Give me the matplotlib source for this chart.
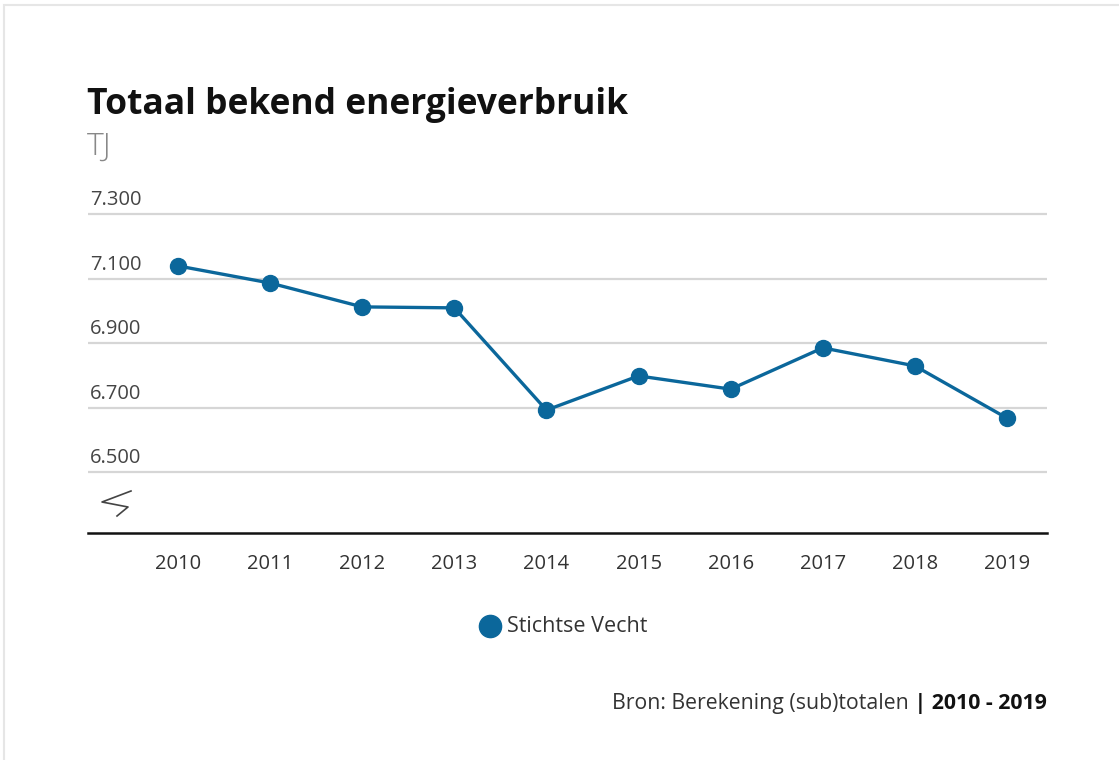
import matplotlib
matplotlib.use("Agg")
import matplotlib.pyplot as plt
from matplotlib.patches import Rectangle
from matplotlib.lines import Line2D

years = ["2010", "2011", "2012", "2013", "2014", "2015", "2016", "2017", "2018", "2019"]
values = [7139, 7086, 7012, 7009, 6692, 6798, 6757, 6885, 6829, 6667]
yticks = [6500, 6700, 6900, 7100, 7300]
ytick_labels = ["6.500", "6.700", "6.900", "7.100", "7.300"]
series_name = "Stichtse Vecht"
title = "Totaal bekend energieverbruik"
unit = "TJ"
source = "Bron: Berekening (sub)totalen"
period = " | 2010 - 2019"

W, H = 1119, 760
fig = plt.figure(figsize=(W / 100, H / 100), dpi=100)
fig.patch.set_facecolor("white")

def fx(px):
    return px / W

def fy(py):
    return 1 - py / H

# card border
fig.patches.append(Rectangle((fx(4), fy(H + 10)), fx(W + 10), fy(5) - fy(H + 10),
                             transform=fig.transFigure, facecolor="white",
                             edgecolor="#e6e6e6", linewidth=1.5, zorder=-10))

color = "#0b679b"
FONT = "Open Sans"

ax_left, ax_right = 88, 1047
ax_top, ax_bot = 205, 533
ax = fig.add_axes([fx(ax_left), fy(ax_bot), fx(ax_right - ax_left), fy(ax_top) - fy(ax_bot)])
ax.set_facecolor("none")

x = list(range(len(years)))
ax.plot(x, values, color=color, linewidth=2.4, marker="o", markersize=11.5,
        markerfacecolor=color, markeredgecolor=color, zorder=3, clip_on=False)

ax.set_xlim(-0.977, 9.434)
ymin = 6311
ymax = 7300 + (7300 - ymin) * (214 - ax_top) / (ax_bot - 214)
ax.set_ylim(ymin, ymax)

for yt in yticks:
    ax.axhline(yt, color="#d6d6d6", linewidth=1.6, zorder=1)
for s in ["top", "right", "left"]:
    ax.spines[s].set_visible(False)
ax.spines["bottom"].set_color("#111111")
ax.spines["bottom"].set_linewidth(1.8)

ax.set_yticks([])
ax.set_xticks(x)
ax.set_xticklabels(years, fontsize=14.5, color="#333333", family=FONT)
ax.tick_params(axis="x", length=0, pad=15)

for yt, lab in zip(yticks, ytick_labels):
    ax.text(0.002, yt + 12, lab, transform=ax.get_yaxis_transform(), ha="left", va="bottom",
            fontsize=14.5, color="#444444", family=FONT)

# axis break symbol
fig.lines.append(Line2D([fx(v) for v in [131, 102, 128, 117]],
                        [fy(v) for v in [491, 502, 507, 516]],
                        transform=fig.transFigure, color="#444444", linewidth=1.2))

# title & unit
fig.text(fx(87), fy(114), title, fontsize=25.5, fontweight="bold", color="#111111",
         family=FONT, ha="left", va="baseline")
fig.text(fx(87), fy(155), unit, fontsize=23, color="#888888", family=FONT,
         fontweight="light", ha="left", va="baseline")

# legend
fig.lines.append(Line2D([fx(490)], [fy(626)], transform=fig.transFigure, marker="o",
                        markersize=16, color=color, linestyle="none"))
fig.text(fx(507), fy(627), series_name, fontsize=15.5, color="#333333", family=FONT,
         ha="left", va="center")

# source
t2 = fig.text(fx(1047), fy(704), period, fontsize=15.3, fontweight="bold", color="#111111",
              family=FONT, ha="right", va="center")
fig.canvas.draw()
bb = t2.get_window_extent()
fig.text(bb.x0 / W, fy(704), source, fontsize=15.3, color="#333333", family=FONT,
         ha="right", va="center")

fig.savefig("out.png", dpi=100, facecolor="white")
